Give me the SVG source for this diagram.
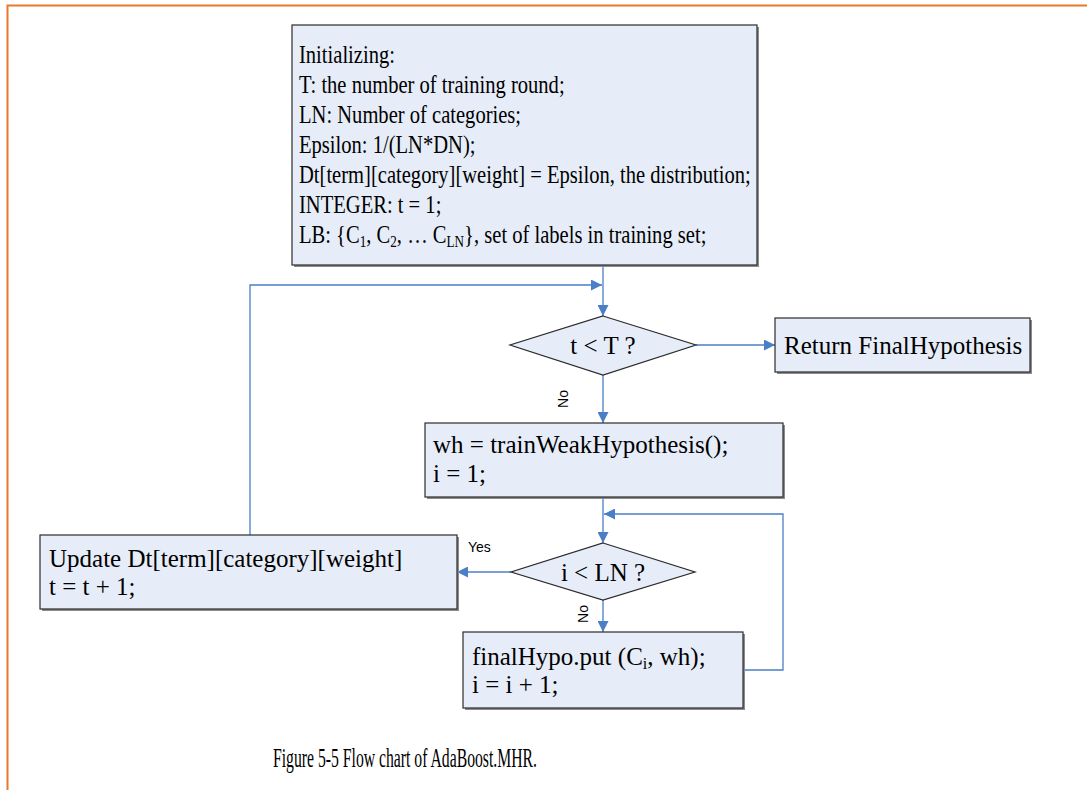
<svg xmlns="http://www.w3.org/2000/svg" width="1087" height="790" viewBox="0 0 1087 790">
  <style>
    .box { fill: #E6EDF8; stroke: #2B2B2B; stroke-width: 1.2; }
    .shadow { fill: #8C8C8C; }
    .t { font-family: "Liberation Serif", "Times New Roman", serif; font-size: 25px; fill: #000; }
    .lbl { font-family: "Liberation Sans", Arial, sans-serif; font-size: 14px; fill: #000; }
    .cap { font-family: "Liberation Serif", "Times New Roman", serif; font-size: 27px; fill: #000; }
    .conn { fill: none; stroke: #4A7EC7; stroke-width: 1.3; }
  </style>
  <defs>
    <marker id="arrow" viewBox="0 0 10 10" refX="10" refY="5" markerWidth="11" markerHeight="11" markerUnits="userSpaceOnUse" orient="auto">
      <path d="M0,0 L10,5 L0,10 Z" fill="#4A7EC7"/>
    </marker>
  </defs>

  <rect width="1087" height="790" fill="#FFFFFF"/>

  <!-- page frame -->
  <path d="M7.5,800 V5.5 H1100" fill="none" stroke="#E8782A" stroke-width="2"/>

  <!-- connectors -->
  <g id="connectors">
    <path class="conn" d="M603,265 V316" marker-end="url(#arrow)"/>
    <path class="conn" d="M250,535 V285 H602" marker-end="url(#arrow)"/>
    <path class="conn" d="M696,345 H775" marker-end="url(#arrow)"/>
    <path class="conn" d="M603,375 V423" marker-end="url(#arrow)"/>
    <path class="conn" d="M603,497 V543" marker-end="url(#arrow)"/>
    <path class="conn" d="M743,670 H783 V514 H604" marker-end="url(#arrow)"/>
    <path class="conn" d="M511,572 H457" marker-end="url(#arrow)"/>
    <path class="conn" d="M603,600 V632" marker-end="url(#arrow)"/>
    <text class="lbl" transform="translate(568,399) rotate(-90)" text-anchor="middle">No</text>
    <text class="lbl" transform="translate(588,614) rotate(-90)" text-anchor="middle">No</text>
    <text class="lbl" x="468" y="552">Yes</text>
  </g>

  <!-- initialization block -->
  <g id="init">
    <rect class="shadow" x="294" y="27" width="465" height="240"/>
    <rect class="box" x="292" y="25" width="465" height="240"/>
    <g transform="translate(299,0) scale(0.823,1)">
      <text class="t" x="0" y="63">Initializing:</text>
      <text class="t" x="0" y="93">T: the number of training round;</text>
      <text class="t" x="0" y="123">LN: Number of categories;</text>
      <text class="t" x="0" y="153">Epsilon: 1/(LN*DN);</text>
      <text class="t" x="0" y="183">Dt[term][category][weight] = Epsilon, the distribution;</text>
      <text class="t" x="0" y="213">INTEGER: t = 1;</text>
      <text class="t" x="0" y="243">LB: {C<tspan font-size="16" dy="4">1</tspan><tspan dy="-4">, C</tspan><tspan font-size="16" dy="4">2</tspan><tspan dy="-4">, … C</tspan><tspan font-size="16" dy="4">LN</tspan><tspan dy="-4">}, set of labels in training set;</tspan></text>
    </g>
  </g>

  <!-- round test -->
  <g id="round-test">
    <polygon class="box" points="603,316 696,345 603,375 510,345"/>
    <text class="t" x="603" y="354" text-anchor="middle">t &lt; T ?</text>
  </g>

  <!-- final result -->
  <g id="return">
    <rect class="shadow" x="777" y="320" width="255" height="54"/>
    <rect class="box" x="775" y="318" width="255" height="54"/>
    <text class="t" x="784" y="354">Return FinalHypothesis</text>
  </g>

  <!-- weak learner -->
  <g id="train">
    <rect class="shadow" x="427" y="425" width="358" height="74"/>
    <rect class="box" x="425" y="423" width="358" height="74"/>
    <text class="t" x="433" y="453">wh = trainWeakHypothesis();</text>
    <text class="t" x="433" y="482">i = 1;</text>
  </g>

  <!-- category test -->
  <g id="category-test">
    <polygon class="box" points="603,543 695,572 603,600 511,572"/>
    <text class="t" x="603" y="581" text-anchor="middle">i &lt; LN ?</text>
  </g>

  <!-- distribution update -->
  <g id="update">
    <rect class="shadow" x="42" y="537" width="417" height="74"/>
    <rect class="box" x="40" y="535" width="417" height="74"/>
    <text class="t" x="49" y="567">Update Dt[term][category][weight]</text>
    <text class="t" x="49" y="595">t = t + 1;</text>
  </g>

  <!-- store hypothesis -->
  <g id="store">
    <rect class="shadow" x="465" y="634" width="280" height="76"/>
    <rect class="box" x="463" y="632" width="280" height="76"/>
    <text class="t" x="472" y="665">finalHypo.put (C<tspan font-size="16" dy="4">i</tspan><tspan dy="-4">, wh);</tspan></text>
    <text class="t" x="472" y="693">i = i + 1;</text>
  </g>

  <!-- caption -->
  <text class="cap" x="405" y="767" text-anchor="middle" textLength="264" lengthAdjust="spacingAndGlyphs">Figure 5-5 Flow chart of AdaBoost.MHR.</text>
</svg>
